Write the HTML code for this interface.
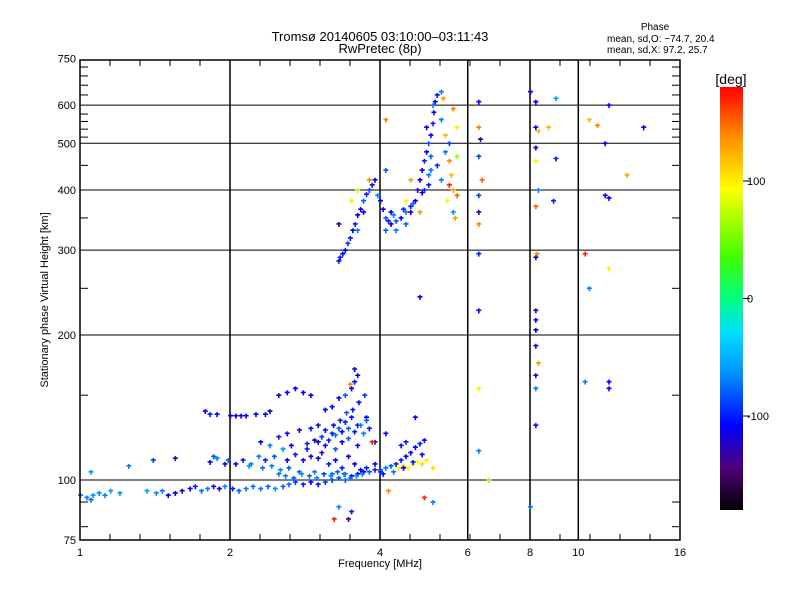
<!DOCTYPE html>
<html><head><meta charset="utf-8"><style>
body{margin:0;background:#fff;}
svg text{font-family:"Liberation Sans",sans-serif;fill:#000;}
</style></head><body>
<svg id="chart" width="800" height="600" xmlns="http://www.w3.org/2000/svg">
<rect width="800" height="600" fill="#fff"/>
<defs><linearGradient id="cmap" x1="0" y1="1" x2="0" y2="0">
<stop offset="0" stop-color="#000"/><stop offset="0.1" stop-color="#50007a"/><stop offset="0.2" stop-color="#0000ff"/>
<stop offset="0.32" stop-color="#0090ff"/><stop offset="0.42" stop-color="#00e0ff"/><stop offset="0.5" stop-color="#00ff80"/>
<stop offset="0.6" stop-color="#40ff00"/><stop offset="0.76" stop-color="#ffff00"/><stop offset="0.88" stop-color="#ff9000"/>
<stop offset="1" stop-color="#ff0000"/></linearGradient></defs>
<g id="grid"></g>
<g id="pts"></g>
<g id="axes"></g>
<text x="380" y="41" font-size="13" text-anchor="middle">Tromsø 20140605 03:10:00–03:11:43</text>
<text x="380" y="53" font-size="13" text-anchor="middle">RwPretec (8p)</text>
<text x="655" y="30" font-size="10" text-anchor="middle">Phase</text>
<text x="607" y="42" font-size="10">mean, sd,O: −74.7, 20.4</text>
<text x="607" y="53" font-size="10">mean, sd,X:  97.2, 25.7</text>
<text x="380" y="567" font-size="11" text-anchor="middle">Frequency [MHz]</text>
<text x="0" y="0" font-size="11" text-anchor="middle" transform="translate(48,300) rotate(-90)">Stationary phase Virtual Height [km]</text>
<rect x="720" y="87" width="23" height="423" fill="url(#cmap)"/>
<text x="731" y="84" font-size="14" text-anchor="middle">[deg]</text>
<g id="cbar"></g>
</svg>
<script>
const xTicks=[1,2,4,6,8,10,16];
const yTicks=[75,100,200,300,400,500,600,750];
const yGrid=[100,200,300,400,500,600];
const xGrid=[2,4,6,8,10];
const yMinor=[80,90,150,250,350,450,515,535,555,575,630,660,690,720];
const cTicks=[100,0,-100];
const freqs=[1.00,1.03,1.06,1.09,1.12,1.15,1.05,1.20,1.36,1.42,1.46,1.50,1.55,1.60,1.66,1.70,1.75,1.80,1.85,1.90,1.95,2.02,2.08,2.15,2.22,2.30,2.38,2.46,2.55,2.62,2.70,2.80,2.90,3.00,3.10,3.20,3.30,3.40,3.50,3.60,3.70,3.80,3.90,4.00,4.10,4.20,4.30,4.40,4.50,4.60,4.70,4.80,4.90,
4.35,4.45,4.55,4.65,4.75,4.85,4.95,5.10,
1.05,1.25,1.40,1.55,1.82,1.85,1.95,2.05,2.12,2.20,2.35,2.45,2.60,2.70,2.80,2.90,3.00,3.05,3.15,3.25,3.35,3.45,3.55,3.65,3.75,3.90,4.00,3.40,3.20,2.95,2.75,2.50,
1.78,1.82,1.88,2.00,2.05,2.10,2.15,2.25,2.35,2.40,
2.50,2.60,2.70,2.80,2.90,2.50,2.60,2.75,2.90,3.00,3.10,3.20,3.30,3.40,3.50,3.10,3.20,3.30,3.40,3.50,3.55,3.60,3.48,3.55,
2.65,2.85,3.00,3.10,3.25,3.35,3.45,3.60,3.70,3.60,3.75,3.80,2.30,2.40,2.55,3.90,4.10,4.50,4.40,4.70,3.85,
3.45,3.50,4.15,4.90,5.10,3.30,3.23,
3.30,3.32,3.36,3.40,3.44,3.48,3.52,3.56,3.60,3.65,3.70,3.75,3.80,3.85,3.90,3.95,4.00,4.05,4.10,4.15,4.20,4.30,4.40,4.50,4.60,4.70,4.75,4.80,4.85,4.90,4.95,5.00,5.05,5.10,5.12,5.15,5.20,
3.7,3.6,4.1,4.3,4.2,4.5,4.6,4.9,5.0,5.05,4.95,5.1,5.3,5.2,5.3,5.4,3.5,3.6,3.3,3.8,4.1,4.6,4.5,4.8,
5.3,5.4,5.5,5.5,5.55,5.6,5.45,5.6,5.7,5.6,5.35,5.7,5.5,5.7,5.65,4.1,4.8,
6.3,6.3,6.35,6.3,6.4,6.3,6.3,6.3,6.3,6.3,6.3,6.3,6.6,
8.0,8.2,8.2,8.3,8.2,8.2,8.3,8.2,8.25,8.2,8.2,8.2,8.2,8.2,8.3,8.2,8.2,8.2,8.0,9.0,9.0,8.7,8.9,
10.3,10.5,10.3,10.5,10.9,11.3,11.3,11.5,11.5,11.5,11.5,12.5,13.5,11.5,
2.58,2.68,2.78,2.88,2.98,3.08,3.18,3.28,3.38,3.48,3.58,3.68,2.85,2.95,3.05,3.15,3.25,3.35,3.45,3.55,3.65,3.75,2.32,2.42,2.52,2.62,3.52,3.62,3.72,3.42,3.32,3.22,4.05,4.25,4.45,4.65,4.85,1.88,1.98,2.18,2.28,4.25,4.45,4.65,4.85,5.00,5.05];
const heights=[93,92,93,94,93,95,91,94,95,94,95,93,94,95,96,97,95,96,97,96,97,96,95,96,97,96,97,96,97,98,99,98,99,98,99,100,101,100,102,103,104,104,105,105,106,107,108,110,112,114,117,119,121,
106,107,106,108,109,108,110,106,
104,107,110,111,109,112,108,108,110,108,110,112,110,113,110,112,111,114,108,110,106,112,108,105,106,108,104,103,103,104,104,103,
139,137,137,136,136,136,136,137,137,139,
150,152,155,152,150,123,125,127,128,130,127,125,128,132,135,140,142,148,150,155,160,165,158,170,
118,116,120,118,116,120,122,118,125,130,135,128,120,118,116,120,125,120,118,135,120,
83,86,95,92,90,88,83,
285,290,295,300,310,318,330,340,355,365,380,392,400,410,420,390,380,365,350,345,340,345,350,360,370,380,400,420,440,460,480,500,520,550,580,610,630,
360,330,330,330,360,340,360,400,430,470,540,600,640,450,420,480,380,400,340,420,440,420,380,360,
560,520,500,460,430,400,380,360,540,590,620,470,410,390,350,560,240,
610,540,510,470,420,390,360,340,295,225,155,115,100,
640,610,540,530,490,460,400,370,295,290,225,215,205,190,175,165,155,130,88,620,465,540,380,
295,250,160,560,545,500,390,600,275,155,160,430,540,385,
102,101,103,102,101,103,102,104,103,101,102,103,119,121,123,121,124,126,128,126,130,133,106,107,105,106,140,145,150,138,133,130,103,104,106,109,113,111,110,107,112,355,365,375,395,410,440];
const phases=[-70,-70,-60,-65,-70,-60,-75,-60,-60,-65,-70,-110,-110,-115,-105,-100,-75,-70,-120,-110,-70,-100,-80,-70,-75,-70,-80,-65,-80,-75,-90,-100,-110,-100,-90,-90,-85,-80,-100,-110,-110,-80,-100,-80,-75,-80,-100,-100,-110,-115,-110,-100,-110,
100,105,95,100,95,110,100,105,
-60,-70,-90,-130,-110,-80,-120,-110,-100,-70,-100,-80,-110,-100,-110,-120,-110,-130,-100,-110,-100,-120,-110,-110,-100,-110,-95,-70,-75,-70,-75,-70,
-110,-100,-110,-110,-110,-110,-110,-110,-110,-110,
-110,-110,-110,-115,-110,-100,-110,-110,-110,-110,-110,-100,-80,-100,-110,-110,-110,-110,-80,-110,-110,-120,140,-110,
-110,-100,-120,-110,-80,-110,-80,-110,-70,-110,-110,-100,-110,-70,-60,-100,-110,-100,-110,-110,170,
-130,-100,140,170,-70,-70,170,
-100,-100,-110,-110,-90,-100,-110,-100,-110,-110,-80,-100,-90,-100,-110,-70,-110,-110,-80,-100,-110,-80,-110,-70,-100,-110,-120,-110,-110,-100,-110,-80,-110,-100,-110,-110,-100,
-120,-70,-80,-70,-110,-80,-110,-100,-70,-80,-110,-70,-70,-100,-70,-70,100,70,-130,140,-80,130,100,130,
-70,120,-90,140,120,130,90,-60,100,140,130,60,170,150,130,140,-110,
-110,140,-130,-90,150,-90,-130,140,-100,-110,100,-70,60,
-110,-110,-110,120,-110,100,-70,150,140,-130,-130,-110,-110,-130,130,-130,-70,-110,-70,-60,-100,120,-100,
170,-70,-70,120,140,-110,-110,-110,100,-110,-110,130,-110,-110,
-70,-80,-60,-75,-70,-90,-65,-80,-70,-75,-60,-70,-100,-110,-90,-100,-70,-110,-80,-100,-70,-80,-75,-70,-65,-80,-100,-110,-90,-80,-100,-110,-100,-70,-110,-100,-110,-70,-80,-60,-70,-70,-100,-80,-110,-100,-70];
const L=80,R=680,T=60,B=540;
function xs(f){return L+150*Math.log2(f);}
function ys(h){return 480-481.7*Math.log10(h/100);}
function cy(p){return 510-(p+180)/360*423;}
const stops=[[0,0,0,0],[0.1,80,0,122],[0.2,0,0,255],[0.32,0,144,255],[0.42,0,224,255],[0.5,0,255,128],[0.6,64,255,0],[0.76,255,255,0],[0.88,255,144,0],[1,255,0,0]];
function col(p){let t=Math.max(0,Math.min(1,(p+180)/360));for(let i=1;i<stops.length;i++){if(t<=stops[i][0]){const a=stops[i-1],b=stops[i],u=(t-a[0])/(b[0]-a[0]);return `rgb(${Math.round(a[1]+u*(b[1]-a[1]))},${Math.round(a[2]+u*(b[2]-a[2]))},${Math.round(a[3]+u*(b[3]-a[3]))})`;}}return 'red';}
const NS='http://www.w3.org/2000/svg';
function mk(tag,attrs,parent){const e=document.createElementNS(NS,tag);for(const k in attrs)e.setAttribute(k,attrs[k]);parent.appendChild(e);return e;}
const grid=document.getElementById('grid'),axes=document.getElementById('axes'),pts=document.getElementById('pts'),cbar=document.getElementById('cbar');
yGrid.forEach(h=>{const l=mk('line',{x1:L,x2:R,y1:ys(h),y2:ys(h),stroke:'#000','stroke-width':1},grid);

});
xGrid.forEach(f=>{const l=mk('line',{x1:xs(f),x2:xs(f),y1:T,y2:B,stroke:'#000','stroke-width':1.5},grid);

});
for(let i=0;i<freqs.length;i++){const x=xs(freqs[i]),y=ys(heights[i]);
const p=mk('path',{d:`M${x-2},${y}h5M${x+0.5},${y-2}v5`,stroke:col(phases[i]),'stroke-width':1.6,fill:'none'},pts);

}
const fr=mk('rect',{x:L,y:T,width:R-L,height:B-T,fill:'none',stroke:'#000','stroke-width':1.5},axes);


for(let k=1;k<20;k++){const x=L+30*k;[[B,B-6],[T,T+6]].forEach(([a,b])=>{const t=mk('line',{x1:x,x2:x,y1:a,y2:b,stroke:'#000'},axes);

});}
yMinor.forEach(h=>{const y=ys(h);[[L,L+8],[R,R-8]].forEach(([a,b])=>{const t=mk('line',{x1:a,x2:b,y1:y,y2:y,stroke:'#000'},axes);

});});
xTicks.forEach(f=>{const t=mk('text',{x:xs(f),y:556,'font-size':11,'text-anchor':'middle'},axes);t.textContent=f;

});
yTicks.forEach(h=>{const t=mk('text',{x:76,y:ys(h)+4,'font-size':11,'text-anchor':'end'},axes);t.textContent=h;

});
cTicks.forEach(p=>{const y=cy(p);mk('line',{x1:743,x2:750,y1:y,y2:y,stroke:'#000'},cbar);
const t=mk('text',{x:747,y:y+4,'font-size':11},cbar);t.textContent=p;

});
</script>
</body></html>
